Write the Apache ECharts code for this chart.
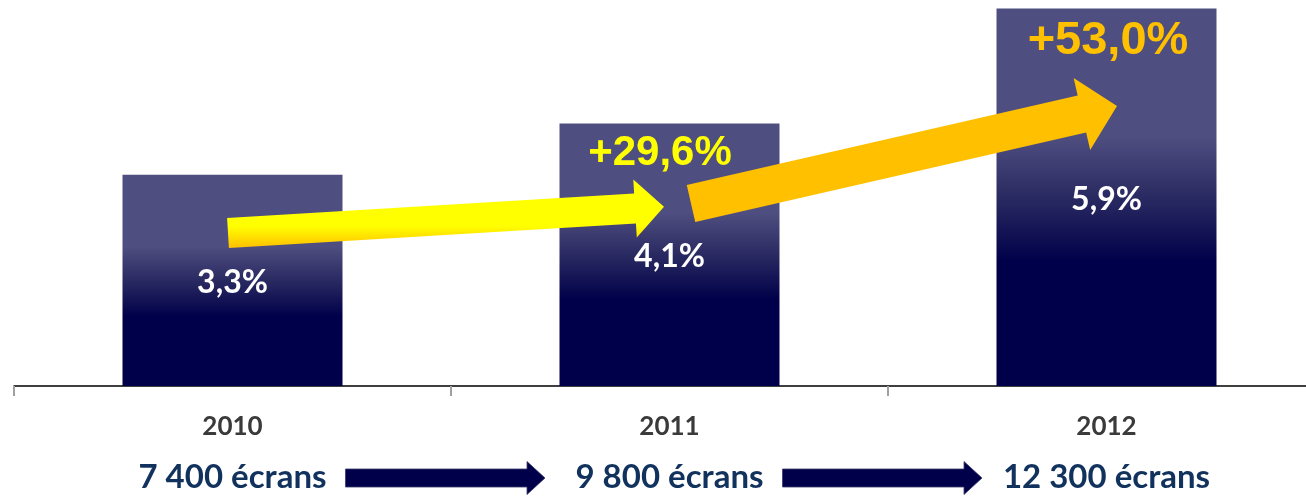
<!DOCTYPE html>
<html><head><meta charset="utf-8">
<script src="https://cdn.jsdelivr.net/npm/echarts@6/dist/echarts.min.js"></script>
<style>html,body{margin:0;padding:0;background:#fff}#c{width:1306px;height:496px}</style>
</head><body><div id="c"></div>
<script>
// ---- data ----
const years = ['2010', '2011', '2012'];
const shareValues = [3.3, 4.1, 5.9];
const shareLabels = ['3,3%', '4,1%', '5,9%'];
const screenLabels = ['7 400 écrans', '9 800 écrans', '12 300 écrans'];
const growthLabels = ['+29,6%', '+53,0%'];

const chart = echarts.init(document.getElementById('c'), null, { renderer: 'canvas' });

const barGrad = new echarts.graphic.LinearGradient(0, 0, 0, 1, [
  { offset: 0, color: '#4e4e80' },
  { offset: 0.34, color: '#4e4e80' },
  { offset: 0.5, color: '#2a2a62' },
  { offset: 0.67, color: '#00004a' },
  { offset: 1, color: '#00004a' }
]);

chart.setOption({
  animation: false,
  backgroundColor: '#ffffff',
  grid: { left: 14, right: -19, top: 2, bottom: 110, containLabel: false, outerBoundsMode: 'none' },
  xAxis: [{
    type: 'category',
    data: years,
    position: 'bottom',
    axisLine: { show: true, lineStyle: { color: '#000', width: 1.5 } },
    axisTick: { show: true, length: 10, lineStyle: { color: '#a0a0a0', width: 2 } },
    axisLabel: { color: '#3a3a3a', fontFamily: 'Lato', fontWeight: 'bold', fontSize: 26, margin: 28 },
    splitLine: { show: false }
  }, {
    type: 'category',
    data: screenLabels,
    position: 'bottom',
    offset: 0,
    axisLine: { show: false },
    axisTick: { show: false },
    axisLabel: { color: '#12325e', fontFamily: 'Lato', fontWeight: 'bold', fontSize: 33, margin: 75 },
    splitLine: { show: false }
  }],
  yAxis: { type: 'value', min: 0, max: 6, show: false, splitLine: { show: false } },
  series: [{
    type: 'bar',
    data: shareValues,
    barWidth: 220,
    itemStyle: { color: barGrad },
    label: {
      show: true,
      position: 'inside',
      offset: [0, 2],
      formatter: p => shareLabels[p.dataIndex],
      color: '#ffffff',
      fontFamily: 'Lato',
      fontWeight: 'bold',
      fontSize: 32
    }
  }]
});

function P(i, v) {
  return chart.convertToPixel({ xAxisIndex: 0, yAxisIndex: 0 }, [years[i], v]);
}
function arrow(s, t, shaftHalf, headHalf, headLen) {
  const dx = t[0] - s[0], dy = t[1] - s[1];
  const L = Math.hypot(dx, dy);
  const ux = dx / L, uy = dy / L;
  const nx = -uy, ny = ux;
  const b = [t[0] - ux * headLen, t[1] - uy * headLen];
  return [
    [s[0] + nx * shaftHalf, s[1] + ny * shaftHalf],
    [b[0] + nx * shaftHalf, b[1] + ny * shaftHalf],
    [b[0] + nx * headHalf, b[1] + ny * headHalf],
    [t[0], t[1]],
    [b[0] - nx * headHalf, b[1] - ny * headHalf],
    [b[0] - nx * shaftHalf, b[1] - ny * shaftHalf],
    [s[0] - nx * shaftHalf, s[1] - ny * shaftHalf]
  ];
}

function drawDecor() {
  const els = [];
  // yellow growth arrow 2010 -> 2011
  const ys = P(0, 2.39), yt = P(1, 2.8);
  els.push({
    type: 'polygon', z: 100,
    shape: { points: arrow([ys[0] - 4.5, ys[1]], [yt[0] - 5.5, yt[1]], 15, 29, 29) },
    style: {
      fill: new echarts.graphic.LinearGradient(0, 0, 0, 1, [
        { offset: 0, color: '#ffff00' }, { offset: 0.68, color: '#ffff00' }, { offset: 1, color: '#ffc000' }
      ])
    }
  });
  // orange growth arrow 2011 -> 2012
  const os = P(1, 2.85), ot = P(2, 4.375);
  els.push({
    type: 'polygon', z: 100,
    shape: { points: arrow([os[0] + 21.5, os[1]], [ot[0] + 10.5, ot[1]], 19, 37, 36) },
    style: { fill: '#ffc000' }
  });
  // growth labels
  const g1 = P(1, shareValues[1]);
  els.push({
    type: 'text', z: 101, x: g1[0] - 9.5, y: g1[1] + 29.5,
    style: { text: growthLabels[0], fill: '#ffff00', font: 'bold 42px "Liberation Sans", Arial', align: 'center', verticalAlign: 'middle' }
  });
  const g2 = P(2, shareValues[2]);
  els.push({
    type: 'text', z: 101, x: g2[0] + 1.5, y: g2[1] + 32.6,
    style: { text: growthLabels[1], fill: '#ffc000', font: 'bold 47px "Liberation Sans", Arial', align: 'center', verticalAlign: 'middle' }
  });
  // navy arrows between screen counts
  const base = P(0, 0);
  const ay = base[1] + 92;
  for (let i = 0; i < years.length - 1; i++) {
    const a = P(i, 0), b = P(i + 1, 0);
    els.push({
      type: 'polygon', z: 100,
      shape: { points: arrow([a[0] + 113, ay], [b[0] - 124.5, ay], 9, 16.5, 18) },
      style: { fill: '#00004a', stroke: '#3a3a70', lineWidth: 0.8 }
    });
  }
  chart.setOption({ graphic: { elements: els } });
}
drawDecor();
</script>
</body></html>
